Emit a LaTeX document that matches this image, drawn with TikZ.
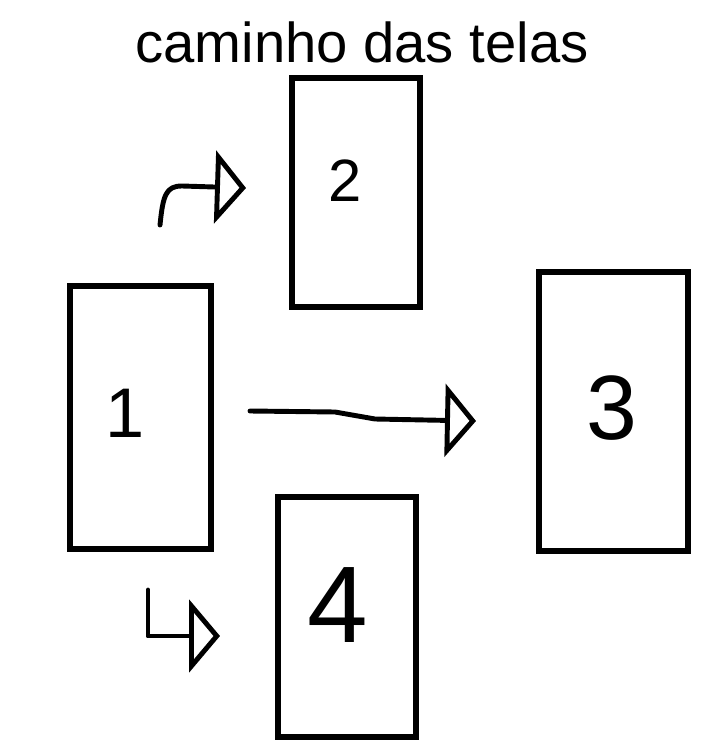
\documentclass[tikz,border=0pt]{standalone}
\usepackage{fontspec}
\setmainfont{Liberation Sans}
\usetikzlibrary{arrows.meta}
\tikzset{
	tela/.style = {draw, line width=2.9pt, inner sep=0pt},
	numero/.style = {inner sep=0pt},
	seta/.style = {line width=2.8pt, line join=round, line cap=round, -{Triangle[open, length=0.62cm, width=1.45cm, line width=2.8pt]}},
}
\begin{document}
\begin{tikzpicture}[x=0.02cm, y=-0.02cm]
		\useasboundingbox (0,0) rectangle (717,749);
		\node (titulo) at (362,42) {\fontsize{32}{34}\selectfont caminho das telas};
		% telas
		\node [tela, minimum width=2.56cm, minimum height=4.58cm] (tela2) at (356,192.5) {};
		\node [tela, minimum width=2.82cm, minimum height=5.26cm] (tela1) at (140.5,417.5) {};
		\node [tela, minimum width=2.98cm, minimum height=5.58cm] (tela3) at (613.5,411.5) {};
		\node [tela, minimum width=2.76cm, minimum height=4.80cm] (tela4) at (347,617) {};
		\node [numero] (num2) at (345,181) {\fontsize{34}{36}\selectfont 2};
		\node [numero] (num1) at (125,413) {\fontsize{40}{42}\selectfont 1};
		\node [numero] (num3) at (612,408) {\fontsize{52}{54}\selectfont 3};
		\node [numero] (num4) at (338,605) {\fontsize{62}{64}\selectfont 4};
		% setas
		\coordinate (a1) at (160,225);
		\coordinate (b1) at (246,188);
		\coordinate (a2) at (250,411);
		\coordinate (b2) at (476,421);
		\coordinate (a3) at (148,590);
		\coordinate (b3) at (220,636);
		\draw [seta] (a1) .. controls (163,195) and (166,186) .. (182,186) -- (b1);
		\draw [seta] (a2) -- (335,412) -- (375,419) -- (b2);
		\draw [seta] (a3) |- (b3);
	\end{tikzpicture}
\end{document}
